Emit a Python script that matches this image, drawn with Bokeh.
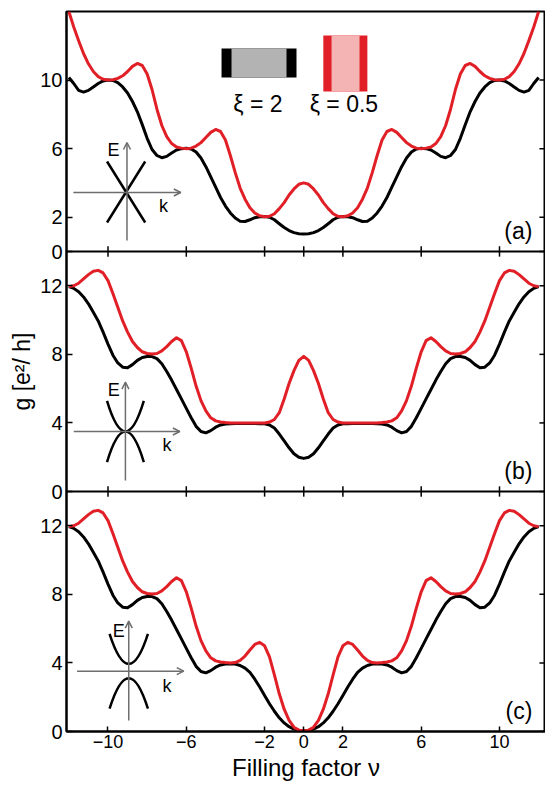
import numpy as np
from bokeh.plotting import figure
from bokeh.models import Range1d, FixedTicker, Span, Label, Arrow, OpenHead
from bokeh.embed import file_html
from bokeh.resources import INLINE

# ---------------- data ----------------
# sampling positions of the filling factor
nu = np.arange(-12, 12.001, 0.25)

# panel (a): xi = 2 (black) and xi = 0.5 (red)
g_a_xi2 = [10.15, 9.8, 9.4, 9.3, 9.4, 9.6, 9.8, 9.95, 10.0, 9.98, 9.85, 9.6, 9.25, 8.75, 8.15, 7.4,
           6.6, 5.95, 5.6, 5.47, 5.55, 5.75, 5.92, 6.0, 6.02, 5.98, 5.8, 5.45, 4.95, 4.35, 3.75, 3.15,
           2.65, 2.25, 1.95, 1.77, 1.75, 1.85, 1.97, 2.03, 2.04, 2.0, 1.85, 1.62, 1.4, 1.22, 1.1, 1.04,
           1.02,
           1.04, 1.1, 1.22, 1.4, 1.62, 1.85, 2.0, 2.04, 2.03, 1.97, 1.85, 1.75, 1.77, 1.95, 2.25, 2.65,
           3.15, 3.75, 4.35, 4.95, 5.45, 5.8, 5.98, 6.02, 6.0, 5.92, 5.75, 5.55, 5.47, 5.6, 5.95, 6.6,
           7.4, 8.15, 8.75, 9.25, 9.6, 9.85, 9.98, 10.0, 9.95, 9.8, 9.6, 9.4, 9.3, 9.4, 9.8, 10.15]
g_a_xi05 = [14.0, 13.1, 12.3, 11.55, 10.95, 10.5, 10.2, 10.05, 10.0, 10.02, 10.1, 10.25, 10.5, 10.8,
            10.97, 10.85, 10.35, 9.45, 8.3, 7.35, 6.7, 6.3, 6.1, 6.03, 6.0, 6.03, 6.15, 6.35, 6.65,
            6.95, 7.12, 7.0, 6.5, 5.6, 4.6, 3.7, 3.05, 2.55, 2.25, 2.08, 2.03, 2.05, 2.2, 2.5, 2.85,
            3.3, 3.65, 3.92, 4.0,
            3.92, 3.65, 3.3, 2.85, 2.5, 2.2, 2.05, 2.03, 2.08, 2.25, 2.55, 3.05, 3.7, 4.6, 5.6, 6.5,
            7.0, 7.12, 6.95, 6.65, 6.35, 6.15, 6.03, 6.0, 6.03, 6.1, 6.3, 6.7, 7.35, 8.3, 9.45, 10.35,
            10.85, 10.97, 10.8, 10.5, 10.25, 10.1, 10.02, 10.0, 10.05, 10.2, 10.5, 10.95, 11.55, 12.3,
            13.1, 14.0]

# panel (b)
g_b_xi2 = [11.95, 11.85, 11.65, 11.35, 10.95, 10.45, 9.95, 9.3, 8.6, 7.95, 7.5, 7.25, 7.22, 7.4, 7.65,
           7.82, 7.88, 7.87, 7.75, 7.45, 7.0, 6.5, 5.95, 5.4, 4.85, 4.3, 3.8, 3.5, 3.42, 3.55, 3.75,
           3.88, 3.93, 3.95, 3.96, 3.96, 3.96, 3.96, 3.96, 3.95, 3.95, 3.88, 3.7, 3.35, 2.95, 2.55,
           2.2, 2.0, 1.93,
           2.0, 2.2, 2.55, 2.95, 3.35, 3.7, 3.88, 3.95, 3.95, 3.96, 3.96, 3.96, 3.96, 3.96, 3.95, 3.93,
           3.88, 3.75, 3.55, 3.42, 3.5, 3.8, 4.3, 4.85, 5.4, 5.95, 6.5, 7.0, 7.45, 7.75, 7.87, 7.88,
           7.82, 7.65, 7.4, 7.22, 7.25, 7.5, 7.95, 8.6, 9.3, 9.95, 10.45, 10.95, 11.35, 11.65, 11.85,
           11.95]
g_b_xi05 = [11.95, 12.0, 12.15, 12.4, 12.65, 12.85, 12.9, 12.75, 12.3, 11.55, 10.75, 9.95, 9.3, 8.75,
            8.4, 8.15, 8.05, 8.02, 8.05, 8.2, 8.45, 8.75, 8.97, 8.8, 8.15, 7.2, 6.15, 5.3, 4.7, 4.3,
            4.12, 4.05, 4.02, 4.0, 4.0, 4.0, 4.0, 4.0, 4.0, 4.0, 4.0, 4.05, 4.2, 4.6, 5.4, 6.3, 7.05,
            7.65, 7.88,
            7.65, 7.05, 6.3, 5.4, 4.6, 4.2, 4.05, 4.0, 4.0, 4.0, 4.0, 4.0, 4.0, 4.0, 4.0, 4.02, 4.05,
            4.12, 4.3, 4.7, 5.3, 6.15, 7.2, 8.15, 8.8, 8.97, 8.75, 8.45, 8.2, 8.05, 8.02, 8.05, 8.15,
            8.4, 8.75, 9.3, 9.95, 10.75, 11.55, 12.3, 12.75, 12.9, 12.85, 12.65, 12.4, 12.15, 12.0,
            11.95]

# panel (c)
g_c_xi2 = [11.95, 11.85, 11.65, 11.35, 10.95, 10.45, 9.95, 9.3, 8.6, 7.95, 7.5, 7.25, 7.22, 7.4, 7.65,
           7.82, 7.88, 7.87, 7.75, 7.45, 7.0, 6.5, 5.95, 5.4, 4.85, 4.3, 3.8, 3.5, 3.42, 3.55, 3.75,
           3.88, 3.93, 3.95, 3.93, 3.85, 3.7, 3.45, 3.05, 2.6, 2.1, 1.62, 1.18, 0.8, 0.5, 0.28, 0.14,
           0.08, 0.06,
           0.08, 0.14, 0.28, 0.5, 0.8, 1.18, 1.62, 2.1, 2.6, 3.05, 3.45, 3.7, 3.85, 3.93, 3.95, 3.93,
           3.88, 3.75, 3.55, 3.42, 3.5, 3.8, 4.3, 4.85, 5.4, 5.95, 6.5, 7.0, 7.45, 7.75, 7.87, 7.88,
           7.82, 7.65, 7.4, 7.22, 7.25, 7.5, 7.95, 8.6, 9.3, 9.95, 10.45, 10.95, 11.35, 11.65, 11.85,
           11.95]
g_c_xi05 = [11.95, 12.0, 12.15, 12.4, 12.65, 12.85, 12.9, 12.75, 12.3, 11.55, 10.75, 9.95, 9.3, 8.75,
            8.4, 8.15, 8.05, 8.02, 8.05, 8.2, 8.45, 8.75, 8.97, 8.8, 8.15, 7.2, 6.15, 5.3, 4.7, 4.3,
            4.12, 4.05, 4.02, 4.0, 4.02, 4.15, 4.4, 4.75, 5.08, 5.2, 5.0, 4.35, 3.3, 2.2, 1.3, 0.65,
            0.25, 0.08, 0.04,
            0.08, 0.25, 0.65, 1.3, 2.2, 3.3, 4.35, 5.0, 5.2, 5.08, 4.75, 4.4, 4.15, 4.02, 4.0, 4.02,
            4.05, 4.12, 4.3, 4.7, 5.3, 6.15, 7.2, 8.15, 8.8, 8.97, 8.75, 8.45, 8.2, 8.05, 8.02, 8.05,
            8.15, 8.4, 8.75, 9.3, 9.95, 10.75, 11.55, 12.3, 12.75, 12.9, 12.85, 12.65, 12.4, 12.15,
            12.0, 11.95]

x_ticks = [-10, -6, -2, 0, 2, 6, 10]
y_ticks_a = [0, 2, 6, 10]
y_ticks_bc = [0, 4, 8, 12]
panel_labels = ["(a)", "(b)", "(c)"]
legend_labels = ["ξ = 2", "ξ = 0.5"]
x_label = "Filling factor ν"
y_label = "g [e²/ h]"

for arr in (g_a_xi2, g_a_xi05, g_b_xi2, g_b_xi05, g_c_xi2, g_c_xi05):
    assert len(arr) == len(nu), len(arr)

# ---------------- styling ----------------
RED = "#e11f26"
PINK = "#f5b4b4"
LGRAY = "#b3b3b3"
AXGRAY = "#6e6e6e"
FONT = "Liberation Sans"
SPAN = 14  # height of one panel in g units
X0, X1 = -12.12, 12.35

p = figure(frame_width=479, frame_height=720,
           x_range=Range1d(X0, X1), y_range=Range1d(0, 3 * SPAN),
           output_backend="svg", toolbar_location=None,
           min_border_left=66, min_border_right=0, min_border_top=11, min_border_bottom=55,
           outline_line_color="black", outline_line_width=2,
           background_fill_color="white", border_fill_color="white")
p.extra_y_ranges = {"a": Range1d(-2 * SPAN, SPAN), "b": Range1d(-SPAN, 2 * SPAN)}
p.xgrid.visible = False
p.ygrid.visible = False

# y ticks: one axis, labels per panel
ypos, yover = [], {}
for off, ticks in ((2 * SPAN, y_ticks_a), (SPAN, y_ticks_bc), (0, y_ticks_bc)):
    for t in ticks:
        ypos.append(off + t)
        yover[off + t] = str(t)

yax = p.yaxis[0]
yax.ticker = FixedTicker(ticks=ypos)
yax.major_label_overrides = yover
yax.major_tick_in = 6
yax.major_tick_out = 0
yax.major_tick_line_width = 1.5
yax.minor_tick_line_color = None
yax.major_label_standoff = 4
yax.major_label_text_font = FONT
yax.major_label_text_font_size = "20px"
yax.major_label_text_color = "black"
yax.axis_line_width = 2
yax.axis_label = y_label
yax.axis_label_standoff = 2
yax.axis_label_text_font = FONT
yax.axis_label_text_font_size = "23px"
yax.axis_label_text_font_style = "normal"
yax.axis_label_text_color = "black"

xax = p.xaxis[0]
xax.ticker = FixedTicker(ticks=x_ticks)
xax.major_tick_in = 5
xax.major_tick_out = 0
xax.major_tick_line_width = 1.5
xax.minor_tick_line_color = None
xax.major_label_standoff = 3
xax.major_label_text_font = FONT
xax.major_label_text_font_size = "18px"
xax.major_label_text_color = "black"
xax.axis_line_width = 2
xax.axis_label = x_label
xax.axis_label_standoff = 3
xax.axis_label_text_font = FONT
xax.axis_label_text_font_size = "24px"
xax.axis_label_text_font_style = "normal"
xax.axis_label_text_color = "black"

# right-hand inward ticks
tick_len_x = 0.31
p.segment(x0=[X1 - tick_len_x] * len(ypos), y0=ypos, x1=[X1] * len(ypos), y1=ypos,
          line_color="black", line_width=1.5)

# panel separators and their ticks
for yb in (SPAN, 2 * SPAN):
    p.add_layout(Span(location=yb, dimension="width", line_color="black", line_width=2))
    p.segment(x0=x_ticks, y0=[yb - 0.3] * len(x_ticks), x1=x_ticks, y1=[yb + 0.3] * len(x_ticks),
              line_color="black", line_width=1.5)

# curves
for rng, blk, red in (("a", g_a_xi2, g_a_xi05), ("b", g_b_xi2, g_b_xi05),
                      ("default", g_c_xi2, g_c_xi05)):
    p.line(nu, blk, line_color="black", line_width=3, line_join="round", y_range_name=rng)
    p.line(nu, red, line_color=RED, line_width=3, line_join="round", y_range_name=rng)

# panel labels
for rng, lab in zip(("a", "b", "default"), panel_labels):
    p.add_layout(Label(x=11.68, y=1.2, text=lab, text_align="right", text_baseline="middle",
                       text_font=FONT, text_font_size="23px", text_color="black",
                       y_range_name=rng))

# legend swatches (panel a)
p.quad(left=[-4.2], right=[-0.37], bottom=[10.15], top=[11.84], fill_color="black",
       line_color=None, y_range_name="a")
p.quad(left=[-3.69], right=[-0.88], bottom=[10.15], top=[11.84], fill_color=LGRAY,
       line_color=None, y_range_name="a")
p.quad(left=[1.0], right=[3.25], bottom=[9.33], top=[12.6], fill_color=RED,
       line_color=None, y_range_name="a")
p.quad(left=[1.42], right=[2.85], bottom=[9.33], top=[12.6], fill_color=PINK,
       line_color=None, y_range_name="a")
p.add_layout(Label(x=-2.34, y=8.63, text=legend_labels[0], text_align="center",
                   text_baseline="middle", text_font=FONT, text_font_size="23px",
                   text_color="black", y_range_name="a"))
p.add_layout(Label(x=2.05, y=8.63, text=legend_labels[1], text_align="center",
                   text_baseline="middle", text_font=FONT, text_font_size="23px",
                   text_color="black", y_range_name="a"))


# band-structure insets
def inset_axes(rng, cx, y0, y1, yh, x0, x1, ex, ey, kx, ky):
    p.add_layout(Arrow(end=OpenHead(size=7, line_color=AXGRAY, line_width=1.5),
                       x_start=cx, y_start=y0, x_end=cx, y_end=y1,
                       line_color=AXGRAY, line_width=1.5, y_range_name=rng))
    p.add_layout(Arrow(end=OpenHead(size=7, line_color=AXGRAY, line_width=1.5),
                       x_start=x0, y_start=yh, x_end=x1, y_end=yh,
                       line_color=AXGRAY, line_width=1.5, y_range_name=rng))
    p.add_layout(Label(x=ex, y=ey, text="E", text_align="center", text_baseline="middle",
                       text_font=FONT, text_font_size="18px", text_color="black",
                       y_range_name=rng))
    p.add_layout(Label(x=kx, y=ky, text="k", text_align="center", text_baseline="middle",
                       text_font=FONT, text_font_size="18px", text_color="black",
                       y_range_name=rng))


# (a) linear bands
inset_axes("a", -9.03, 0.64, 6.36, 3.44, -11.77, -6.28, -9.72, 5.95, -7.17, 2.68)
p.segment(x0=[-10.05, -10.05], y0=[1.69, 5.25], x1=[-8.1, -8.1], y1=[5.25, 1.69],
          line_color="black", line_width=2.5, y_range_name="a")

# (b) touching parabolic bands
inset_axes("b", -9.11, 0.64, 6.38, 3.5, -11.75, -6.33, -9.71, 5.92, -6.98, 2.7)
p.quadratic(x0=[-10.05, -10.05], y0=[5.28, 1.72], x1=[-8.17, -8.17], y1=[5.28, 1.72],
            cx=[-9.11, -9.11], cy=[1.72, 5.28], line_color="black", line_width=2.5,
            y_range_name="b")

# (c) gapped parabolic bands
inset_axes("default", -8.94, 0.64, 6.44, 3.52, -11.58, -6.13, -9.45, 5.89, -6.98, 2.68)
p.quadratic(x0=[-9.92, -9.92], y0=[5.7, 1.33], x1=[-7.96, -7.96], y1=[5.7, 1.33],
            cx=[-8.94, -8.94], cy=[2.2, 4.89], line_color="black", line_width=2.5)

open("out.html", "w").write(file_html(p, INLINE))
